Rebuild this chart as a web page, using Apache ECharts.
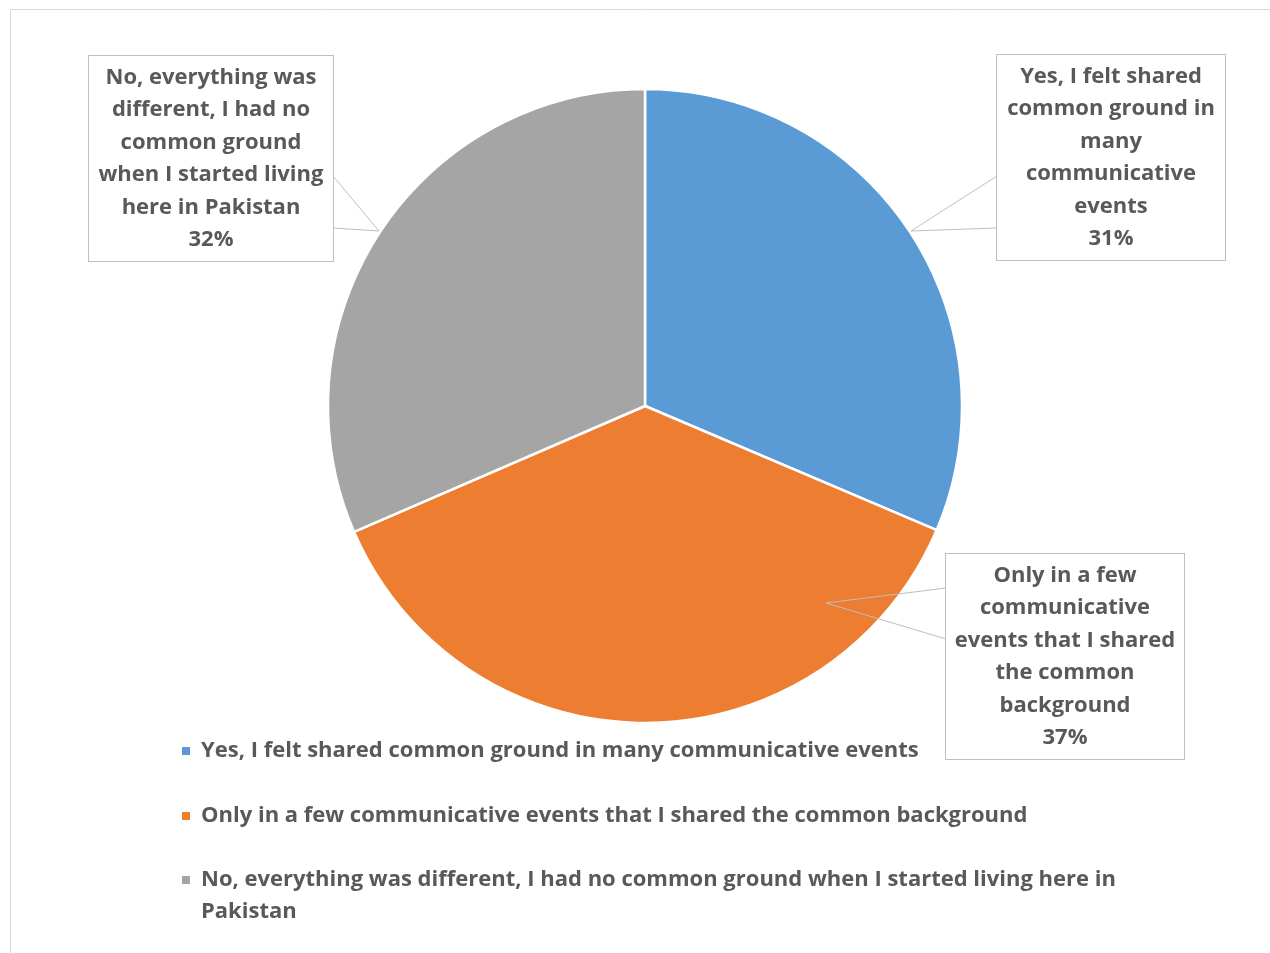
<!DOCTYPE html>
<html><head><meta charset="utf-8">
<script src="https://cdn.jsdelivr.net/npm/echarts@6/dist/echarts.min.js"></script>
<style>html,body{margin:0;padding:0;background:#fff}#c{width:1270px;height:953px}</style>
</head><body><div id="c"></div>
<script>
const categories = [
  'Yes, I felt shared common ground in many communicative events',
  'Only in a few communicative events that I shared the common background',
  'No, everything was different, I had no common ground when I started living here in Pakistan'
];
// slice sizes (labels show rounded %)
const values = [31.4, 37.1, 31.5];
const colors = ['#5B9BD5', '#ED7D31', '#A5A5A5'];
const labelLines = [
  'Yes, I felt shared\ncommon ground in\nmany\ncommunicative\nevents',
  'Only in a few\ncommunicative\nevents that I shared\nthe common\nbackground',
  'No, everything was\ndifferent, I had no\ncommon ground\nwhen I started living\nhere in Pakistan'
];

// callout box layout (annotation geometry)
const boxes = [
  { cx: 1111, cy: 157.5, w: 228, line: [[997, 176], [911, 231], [997, 228]] },
  { cx: 1065, cy: 656.5, w: 238, line: [[946, 588], [826, 603], [946, 639]] },
  { cx: 211, cy: 158.5, w: 244, line: [[333, 176], [379, 231], [333, 228]] }
];

const FONT = '"Open Sans", sans-serif';
const FS = 22;
const legendText = {
  fontFamily: FONT, fontSize: FS, fontWeight: 'bold', color: '#595959',
  lineHeight: 32, width: 930, overflow: 'break', padding: [0, 0, 0, 6]
};
const chart = echarts.init(document.getElementById('c'), null, { renderer: 'canvas' });
chart.setOption({
  animation: false,
  backgroundColor: '#fff',
  color: colors,
  graphic: [{
    type: 'rect', silent: true, z: -1,
    shape: { x: 10.5, y: 9.5, width: 1300, height: 1000 },
    style: { fill: null, stroke: '#D9D9D9', lineWidth: 1 }
  }],
  legend: [{
    orient: 'vertical', left: 182, top: 735, padding: 0,
    itemWidth: 8, itemHeight: 8, itemGap: 33, icon: 'rect',
    itemStyle: { borderWidth: 0 },
    selectedMode: false,
    data: categories.slice(0, 2),
    textStyle: legendText
  }, {
    orient: 'vertical', left: 182, top: 864, padding: 0,
    itemWidth: 8, itemHeight: 40,
    icon: 'path://M0,0L8,0L8,8L0,8Z M0,40L8,40',
    itemStyle: { borderWidth: 0 },
    selectedMode: false,
    data: categories.slice(2),
    textStyle: legendText
  }],
  series: [{
    type: 'pie',
    center: [645, 406], radius: 317,
    startAngle: 90, clockwise: true,
    avoidLabelOverlap: false,
    emphasis: { disabled: true },
    itemStyle: { borderColor: '#fff', borderWidth: 2.5 },
    label: {
      show: true, position: 'outside',
      formatter: p => labelLines[p.dataIndex] + '\n' + Math.round(p.percent) + '%',
      fontFamily: FONT, fontSize: FS, fontWeight: 'bold', color: '#595959',
      lineHeight: 32.5, align: 'center',
      backgroundColor: '#fff', borderColor: '#BFBFBF', borderWidth: 1,
      padding: [10, 0, 0, 0]
    },
    labelLine: { show: true, smooth: false, lineStyle: { color: '#BFBFBF', width: 1 } },
    labelLayout: function (params) {
      const b = boxes[params.dataIndex];
      return { x: b.cx, y: b.cy, align: 'center', verticalAlign: 'middle', labelLinePoints: b.line };
    },
    data: categories.map((n, i) => ({ name: n, value: values[i], label: { width: boxes[i].w } }))
  }]
});
// keep callout lines above the slices
try {
  const d = chart.getModel().getSeriesByIndex(0).getData();
  d.eachItemGraphicEl(function (el) {
    const g = el.getTextGuideLine && el.getTextGuideLine();
    if (g) { g.z2 = 50; g.markRedraw(); }
  });
  chart.getZr().refreshImmediately();
} catch (e) {}
</script></body></html>
